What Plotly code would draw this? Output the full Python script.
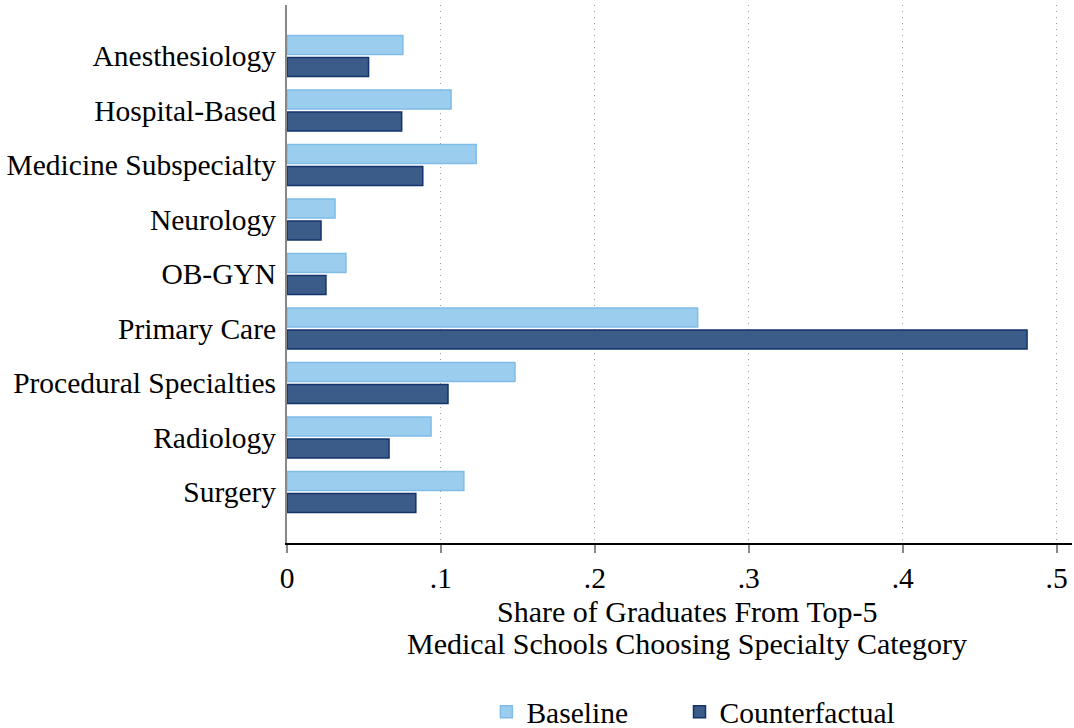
import plotly.graph_objects as go

categories = ["Anesthesiology", "Hospital-Based", "Medicine Subspecialty", "Neurology",
              "OB-GYN", "Primary Care", "Procedural Specialties", "Radiology", "Surgery"]
baseline = [0.0753, 0.1066, 0.1229, 0.0312, 0.0383, 0.2668, 0.1481, 0.0936, 0.1149]
counterfactual = [0.0530, 0.0745, 0.0882, 0.0221, 0.0253, 0.4808, 0.1046, 0.0663, 0.0837]
x_ticks = [0, 0.1, 0.2, 0.3, 0.4, 0.5]
x_tick_labels = ["0", ".1", ".2", ".3", ".4", ".5"]
x_title_lines = ["Share of Graduates From Top-5", "Medical Schools Choosing Specialty Category"]

FONT = "Liberation Serif, Times New Roman, serif"
FS = 29.5

fig = go.Figure()
fig.add_trace(go.Bar(
    y=categories, x=baseline, orientation="h", name="Baseline", legend="legend",
    marker=dict(color="#9BCDEE", line=dict(color="#7FBCE8", width=1.5)),
))
fig.add_trace(go.Bar(
    y=categories, x=counterfactual, orientation="h", name="Counterfactual", legend="legend2",
    marker=dict(color="#3B5B89", line=dict(color="#12346B", width=1.5)),
))

for i, line in enumerate(x_title_lines):
    fig.add_annotation(text=line, xref="paper", yref="paper", x=0.51, y=-0.128 - 0.058 * i,
                       xanchor="center", yanchor="middle", showarrow=False,
                       font=dict(family=FONT, size=30, color="black"))

leg_common = dict(orientation="h", xanchor="left", y=0.022, yanchor="middle",
                  yref="container", font=dict(size=FS), bgcolor="rgba(0,0,0,0)")

fig.update_layout(
    width=1074, height=728,
    margin=dict(l=287, r=2, t=5, b=185),
    paper_bgcolor="white", plot_bgcolor="white",
    barmode="group", bargap=0.19, bargroupgap=0.14,
    font=dict(family=FONT, size=FS, color="black"),
    showlegend=True,
    legend=dict(x=0.254, **leg_common),
    legend2=dict(x=0.5, **leg_common),
    xaxis=dict(
        range=[0, 0.51], tickvals=x_ticks, ticktext=x_tick_labels,
        showgrid=True, gridcolor="#999999", griddash="1px,5px", gridwidth=1,
        zeroline=False, showline=True, linecolor="black", linewidth=1.5,
        ticks="outside", ticklen=8, tickcolor="#888888", tickwidth=1.5,
        tickfont=dict(size=FS), automargin=False,
    ),
    yaxis=dict(
        categoryorder="array", categoryarray=categories,
        range=[8.935, -0.935],
        showgrid=False, zeroline=False, showline=True, linecolor="#888888", linewidth=2,
        ticks="", tickfont=dict(size=FS), ticklabelstandoff=3, automargin=False,
    ),
)

fig.write_html("out.html", config={"displayModeBar": False},
               post_script="document.body.style.margin='0';document.body.style.overflow='hidden';")
